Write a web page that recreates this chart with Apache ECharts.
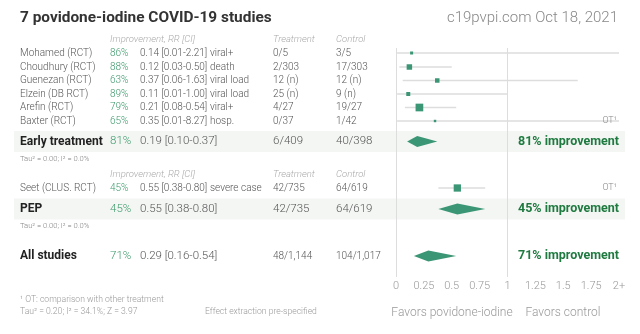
<!DOCTYPE html>
<html><head><meta charset="utf-8">
<script src="https://cdn.jsdelivr.net/npm/echarts@6/dist/echarts.min.js"></script>
<style>html,body{margin:0;padding:0;background:#fff}#c{width:640px;height:334px}</style>
</head><body><div id="c"></div>
<script>
// ---- data ----
const studyNames = ['Mohamed (RCT)', 'Choudhury (RCT)', 'Guenezan (RCT)', 'Elzein (DB RCT)', 'Arefin (RCT)', 'Baxter (RCT)'];
const studyImprove = ['86%', '88%', '63%', '89%', '79%', '65%'];
const studyRR = [0.14, 0.12, 0.37, 0.11, 0.21, 0.35];
const studyLo = [0.01, 0.03, 0.06, 0.01, 0.08, 0.01];
const studyHi = [2.21, 0.50, 1.63, 1.00, 0.54, 8.27];
const studyOutcome = ['viral+', 'death', 'viral load', 'viral load', 'viral+', 'hosp.'];
const studyTreat = ['0/5', '2/303', '12 (n)', '25 (n)', '4/27', '0/37'];
const studyControl = ['3/5', '17/303', '12 (n)', '9 (n)', '19/27', '1/42'];
const studyWeight = [9, 30, 20, 16, 59, 6];
const studyOT = [false, false, false, false, false, true];

const pepNames = ['Seet (CLUS. RCT)'];
const pepImprove = ['45%'];
const pepRR = [0.55];
const pepLo = [0.38];
const pepHi = [0.80];
const pepOutcome = ['severe case'];
const pepTreat = ['42/735'];
const pepControl = ['64/619'];
const pepWeight = [53];
const pepOT = [true];

const summaryNames = ['Early treatment', 'PEP', 'All studies'];
const summaryImprove = ['81%', '45%', '71%'];
const summaryRR = [0.19, 0.55, 0.29];
const summaryLo = [0.10, 0.38, 0.16];
const summaryHi = [0.37, 0.80, 0.54];
const summaryTreat = ['6/409', '42/735', '48/1,144'];
const summaryControl = ['40/398', '64/619', '104/1,017'];
const summaryTau = ['Tau² = 0.00; I² = 0.0%', 'Tau² = 0.00; I² = 0.0%', null];

const tickLabels = ['0', '0.25', '0.5', '0.75', '1', '1.25', '1.5', '1.75', '2+'];

// ---- layout (pixel rows) ----
const studyRowY = [53, 67, 80.5, 94, 107.5, 121];
const pepRowY = [188];
const summaryRowY = [141.5, 209, 256];
const bandRows = [true, true, false];
const colX = {name: 20, pct: 110, rr: 140, outcome: 210, treat: 273, control: 336};
const FONT = 'Roboto, "Noto Sans", sans-serif';
const GREEN = '#3d9a6c';
const TXT = '#555';

function fmtRR(r, l, h) { return r.toFixed(2) + ' [' + l.toFixed(2) + '-' + h.toFixed(2) + ']'; }

const graphics = [];
function txt(x, y, s, o) {
  o = o || {};
  graphics.push({
    type: 'text', x: x, y: y, z: 10, silent: true,
    style: {
      text: s, fill: o.color || TXT, textAlign: o.align || 'left', textVerticalAlign: 'middle',
      fontFamily: FONT, fontSize: o.size || 10, fontWeight: o.weight || 300, fontStyle: o.italic ? 'italic' : 'normal'
    }
  });
}

// title
txt(20, 18, '7 povidone-iodine COVID-19 studies', {size: 15.4, weight: 'bold', color: '#333'});
txt(618, 18, 'c19pvpi.com Oct 18, 2021', {size: 15, weight: 300, color: '#888', align: 'right'});

function header(y) {
  txt(colX.pct, y, 'Improvement, RR [CI]', {size: 9.5, italic: true, color: '#aaa'});
  txt(colX.treat, y, 'Treatment', {size: 9.5, italic: true, color: '#aaa'});
  txt(colX.control, y, 'Control', {size: 9.5, italic: true, color: '#aaa'});
}
header(40);
header(175);

function studyRows(names, imp, rr, lo, hi, out, tr, ct, ot, ys) {
  names.forEach(function (n, i) {
    const y = ys[i];
    txt(colX.name, y, n);
    txt(colX.pct, y, imp[i], {color: GREEN});
    txt(colX.rr, y, fmtRR(rr[i], lo[i], hi[i]));
    txt(colX.outcome, y, out[i]);
    txt(colX.treat, y, tr[i]);
    txt(colX.control, y, ct[i]);
    if (ot[i]) txt(617, y, 'OT¹', {size: 9, color: '#888', align: 'right'});
  });
}
studyRows(studyNames, studyImprove, studyRR, studyLo, studyHi, studyOutcome, studyTreat, studyControl, studyOT, studyRowY);
studyRows(pepNames, pepImprove, pepRR, pepLo, pepHi, pepOutcome, pepTreat, pepControl, pepOT, pepRowY);

summaryNames.forEach(function (n, i) {
  const y = summaryRowY[i];
  if (bandRows[i]) {
    graphics.push({type: 'rect', z: -10, silent: true, shape: {x: 14, y: y - 10.5, width: 611, height: 21}, style: {fill: '#f3f6f3'}});
  }
  const small = i === 2;
  txt(colX.name, y, n, {size: 12, weight: 'bold', color: '#222'});
  txt(colX.pct, y, summaryImprove[i], {size: 11.5, color: GREEN});
  txt(colX.rr, y, fmtRR(summaryRR[i], summaryLo[i], summaryHi[i]), {size: 11.5});
  txt(colX.treat, y, summaryTreat[i], {size: small ? 10 : 11.5});
  txt(colX.control, y, summaryControl[i], {size: small ? 10 : 11.5});
  txt(619, y, summaryImprove[i] + ' improvement', {size: 12.5, weight: 'bold', color: '#1f7a40', align: 'right'});
  if (summaryTau[i]) txt(colX.name, y + 17.5, summaryTau[i], {size: 7.6, color: '#888'});
});

txt(20, 300, '¹ OT: comparison with other treatment', {size: 8.6, color: '#999'});
txt(20, 312, 'Tau² = 0.20; I² = 34.1%; Z = 3.97', {size: 8.6, color: '#999'});
txt(205, 312, 'Effect extraction pre-specified', {size: 8.6, color: '#999'});
txt(452, 313, 'Favors povidone-iodine', {size: 12, color: '#999', align: 'center'});
txt(563, 313, 'Favors control', {size: 12, color: '#999', align: 'center'});

// series data
const ciData = [];
const sqData = [];
function addStudies(rr, lo, hi, w, ys) {
  rr.forEach(function (r, i) {
    ciData.push([lo[i], Math.min(hi[i], 2), ys[i]]);
    sqData.push([r, ys[i], w[i]]);
  });
}
addStudies(studyRR, studyLo, studyHi, studyWeight, studyRowY);
addStudies(pepRR, pepLo, pepHi, pepWeight, pepRowY);
const dmData = summaryRR.map(function (r, i) { return [r, summaryLo[i], summaryHi[i], summaryRowY[i]]; });

const chart = echarts.init(document.getElementById('c'), null, {renderer: 'canvas'});
chart.setOption({
  animation: false,
  grid: {left: 396, right: 21, top: 48, bottom: 57, containLabel: false},
  xAxis: {
    type: 'value', min: 0, max: 2, interval: 0.25,
    axisLine: {show: false}, axisTick: {show: false}, splitLine: {show: false},
    axisLabel: {
      color: '#999', fontSize: 11, fontFamily: FONT, fontWeight: 300, margin: 4,
      formatter: function (v) { return tickLabels[Math.round(v / 0.25)]; }
    }
  },
  yAxis: {type: 'value', min: 48, max: 277, inverse: true, show: false},
  graphic: graphics,
  series: [
    {
      type: 'custom', z: 2, silent: true,
      data: ciData,
      renderItem: function (p, api) {
        const a = api.coord([api.value(0), api.value(2)]);
        const b = api.coord([api.value(1), api.value(2)]);
        return {type: 'line', shape: {x1: a[0], y1: a[1], x2: b[0], y2: b[1]}, style: {stroke: '#ddd', lineWidth: 1.5}};
      },
      markLine: {
        silent: true, symbol: 'none', label: {show: false},
        lineStyle: {color: '#ddd', width: 1, type: 'solid'},
        data: [{xAxis: 0}, {xAxis: 1}]
      }
    },
    {
      type: 'custom', z: 3, silent: true,
      data: sqData,
      renderItem: function (p, api) {
        const c = api.coord([api.value(0), api.value(1)]);
        const s = Math.sqrt(api.value(2));
        return {type: 'rect', shape: {x: c[0] - s / 2, y: c[1] - s / 2, width: s, height: s}, style: {fill: '#3a9674'}};
      }
    },
    {
      type: 'custom', z: 3, silent: true,
      data: dmData,
      renderItem: function (p, api) {
        const y = api.value(3);
        const c = api.coord([api.value(0), y]);
        const l = api.coord([api.value(1), y]);
        const r = api.coord([api.value(2), y]);
        const h = 5.5;
        return {type: 'polygon', shape: {points: [[l[0], c[1]], [c[0], c[1] - h], [r[0], c[1]], [c[0], c[1] + h]]}, style: {fill: '#3a9674'}};
      }
    }
  ]
});
</script>
</body></html>
